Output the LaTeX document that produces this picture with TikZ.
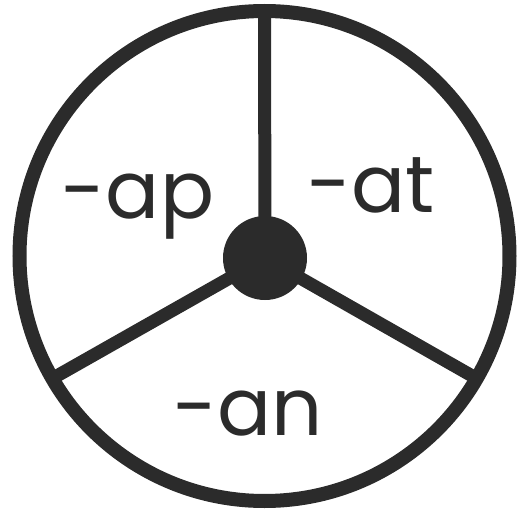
\documentclass[tikz,border=0pt]{standalone}
\usepackage{fontspec}
\newfontfamily\wheelfont{Poppins}
\usepackage{xcolor}
\definecolor{cInk}{HTML}{2B2B2B}
\usepackage{tikz}
\usetikzlibrary{positioning,calc}
\tikzset{
  wheel-rim/.style={draw=cInk,line width=7pt,circle,minimum size=245pt,
    inner sep=0pt,outer sep=0pt},
  wheel-hub/.style={fill=cInk,circle,minimum size=42pt,inner sep=0pt},
  wheel-spoke/.style={draw=cInk,line width=6.5pt},
  word-label/.style={text=cInk,font=\wheelfont\fontsize{40}{40}\selectfont,
    anchor=base,inner sep=0pt},
}

\begin{document}
\begin{tikzpicture}[x=0.5pt,y=-0.5pt]
  \useasboundingbox (0,0) rectangle (526,514);
  \node[wheel-rim] (rim) at (264.5,256) {};
  \coordinate (axle) at (265,258);

  % three spokes from the axle to the rim
  \foreach \ang in {90,210,330}
    \draw[wheel-spoke] (axle) -- (rim.\ang);

  \node[wheel-hub] (hub) at (axle) {};

  \node[word-label] (ap) at (138,218) {-ap};
  \node[word-label] (at) at (371,213) {-at};
  \node[word-label] (an) at (248,435) {-an};
\end{tikzpicture}
\end{document}
